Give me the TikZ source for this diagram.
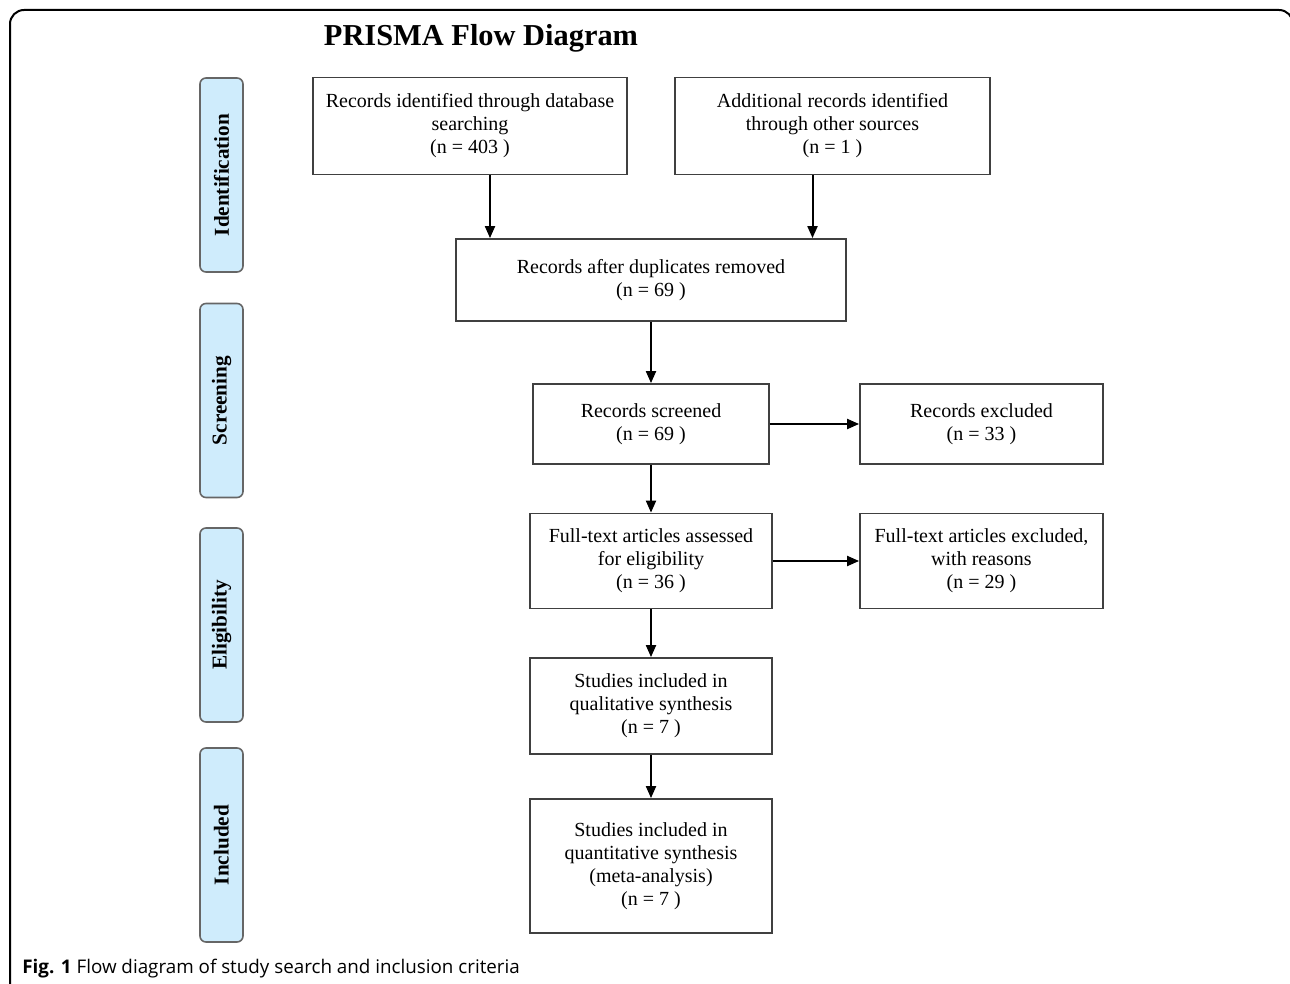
\documentclass[tikz,border=0pt]{standalone}
\usepackage{fontspec}
\setmainfont{Liberation Serif}
\newfontfamily\capfont{Open Sans}
\usetikzlibrary{arrows.meta}
\definecolor{phaseblue}{RGB}{207,236,252}

\begin{document}
\begin{tikzpicture}[x=0.5pt, y=-0.5pt,
	box/.style={draw=black!75, line width=0.9pt, align=center, inner sep=0pt, font=\fontsize{10}{11.5}\selectfont},
	phase/.style={draw=black!60, line width=0.8pt, fill=phaseblue, rounded corners=3pt, rotate=90, minimum width=97pt, minimum height=21.5pt, inner sep=0pt, font=\bfseries\fontsize{10.6}{12}\selectfont},
	flow/.style={-{Triangle[length=6pt,width=5pt]}, line width=1pt}]
			%%%%% START %%%%%
			\useasboundingbox (0, 0) rectangle (1290, 984);
			\draw[line width=1pt, rounded corners=7pt] (10, 984) -- (10, 10) -- (1293, 10) -- (1293, 984);
			
			\node[font=\bfseries\fontsize{15.2}{17}\selectfont] (title) at (481, 38) {PRISMA Flow Diagram};
			
			% phases
			\node[phase] (ident) at (221.5, 175) {Identification};
			\node[phase] (screen) at (221.5, 400.5) {Screening};
			\node[phase] (elig) at (221.5, 625) {Eligibility};
			\node[phase] (incl) at (221.5, 845) {Included};
			
			% boxes
			\node[box, minimum width=157pt, minimum height=48.5pt] (recdb) at (470, 126) {Records identified through database\\searching\\(n = 403 )};
			\node[box, minimum width=157.5pt, minimum height=48.5pt] (recother) at (832.5, 126) {Additional records identified\\through other sources\\(n = 1 )};
			\node[box, minimum width=195pt, minimum height=41pt] (dedup) at (651, 280) {Records after duplicates removed\\(n = 69 )};
			\node[box, minimum width=118pt, minimum height=40pt] (screened) at (651, 424) {Records screened\\(n = 69 )};
			\node[box, minimum width=121.5pt, minimum height=40pt] (excluded) at (981.5, 424) {Records excluded\\(n = 33 )};
			\node[box, minimum width=121pt, minimum height=47.5pt] (fulltext) at (651, 561) {Full-text articles assessed\\for eligibility\\(n = 36 )};
			\node[box, minimum width=121.5pt, minimum height=47.5pt] (ftexcl) at (981.5, 561) {Full-text articles excluded,\\with reasons\\(n = 29 )};
			\node[box, minimum width=121pt, minimum height=48pt] (qual) at (651, 706) {Studies included in\\qualitative synthesis\\(n = 7 )};
			\node[box, minimum width=121pt, minimum height=67pt] (quant) at (651, 866) {Studies included in\\quantitative synthesis\\(meta-analysis)\\(n = 7 )};
			
			% arrows
			\draw[flow] ([xshift=10pt]recdb.south) -- ([xshift=10pt]recdb.south |- dedup.north);
			\draw[flow] ([xshift=-10pt]recother.south) -- ([xshift=-10pt]recother.south |- dedup.north);
			\draw[flow] (dedup) -- (screened);
			\draw[flow] (screened) -- (excluded);
			\draw[flow] (screened) -- (fulltext);
			\draw[flow] (fulltext) -- (ftexcl);
			\draw[flow] (fulltext) -- (qual);
			\draw[flow] (qual) -- (quant);
			
			\node[anchor=west, inner sep=0pt, font=\capfont\fontsize{9.4}{11}\selectfont] (caption) at (22, 969) {\textbf{Fig. 1} Flow diagram of study search and inclusion criteria};
			%%%%% END %%%%%
\end{tikzpicture}
\end{document}
